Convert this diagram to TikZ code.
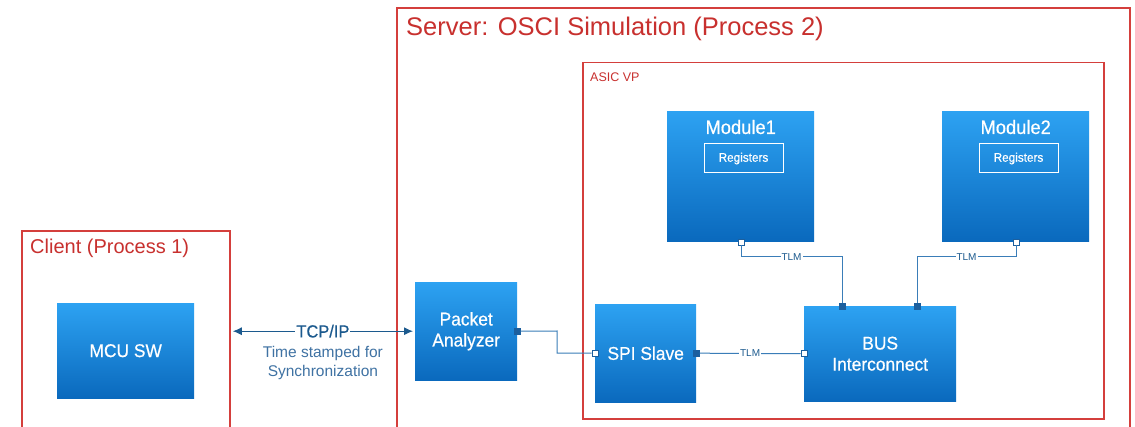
\documentclass[tikz,border=0pt]{standalone}
\usepackage{fontspec}
\setmainfont{Liberation Sans}
\newfontfamily\boxfont[FakeBold=0.5,FakeStretch=0.94]{Liberation Sans}
\usetikzlibrary{calc,arrows.meta}
\definecolor{frame}{HTML}{D43F3C}
\definecolor{frametext}{HTML}{C8302E}
\definecolor{btop}{HTML}{2DA2F2}
\definecolor{bbot}{HTML}{0A69BD}
\definecolor{wire}{HTML}{3A7DB8}
\definecolor{portc}{HTML}{1C5F9E}
\definecolor{tcpc}{HTML}{1C5A8E}
\definecolor{notec}{HTML}{3F72A3}
\tikzset{
  redframe/.style={draw=frame, line width=1.8pt, fill=none, anchor=north west, inner sep=0pt},
  bluebox/.style={top color=btop, bottom color=bbot, draw=none, anchor=north west, inner sep=0pt,
     text=white, font=\boxfont\fontsize{18.5}{21}\selectfont, align=center},
  regbox/.style={draw=white, line width=1pt, fill=none, text=white, inner sep=0pt,
     minimum width=79pt, minimum height=29pt, font=\boxfont\fontsize{12.5}{14}\selectfont},
  modtitle/.style={text=white, font=\boxfont\fontsize{19.5}{22}\selectfont, inner sep=0pt},
  wireline/.style={draw=wire, line width=1pt},
  portf/.style={fill=portc, draw=portc, minimum size=6pt, inner sep=0pt},
  porto/.style={fill=white, draw=portc, line width=0.8pt, minimum size=6pt, inner sep=0pt},
  tlm/.style={fill=white, inner sep=1pt, text=tcpc, font=\fontsize{10}{12}\selectfont},
  tcptip/.tip={Latex[length=9pt,width=8pt]},
}
\begin{document}
\begin{tikzpicture}[x=1pt,y=-1pt]
\useasboundingbox[fill=white] (0,0) rectangle (1135,427);
% frames
\node[redframe, minimum width=208pt, minimum height=205pt] (client) at (21,230) {};
\node[anchor=west, text=frametext, font=\fontsize{20}{24}\selectfont, inner sep=0pt] (clientt) at (30,248) {Client (Process 1)};
\node[redframe, minimum width=733pt, minimum height=430pt] (server) at (396,7) {};
\node[anchor=west, text=frametext, font=\fontsize{25.5}{30}\selectfont, inner sep=0pt] (servert) at (406,29) {Server: OSCI Simulation (Process 2)};
\node[redframe, minimum width=521pt, minimum height=356pt, line width=1.5pt] (asic) at (582,62) {};
\node[anchor=west, text=frametext, font=\fontsize{12.5}{15}\selectfont, inner sep=0pt] (asict) at (590,77) {ASIC VP};
% blue boxes
\node[bluebox, minimum width=137pt, minimum height=95pt] (mcu) at (57,303) {MCU SW};
\node[bluebox, minimum width=102pt, minimum height=98pt] (pa) at (415,282) {Packet\\Analyzer};
\node[bluebox, minimum width=101pt, minimum height=98pt] (spi) at (595,304) {SPI Slave};
\node[bluebox, minimum width=152pt, minimum height=95pt] (bus) at (804,306) {BUS\\Interconnect};
\node[bluebox, minimum width=147pt, minimum height=130pt] (m1) at (667,111) {};
\node[bluebox, minimum width=147pt, minimum height=130pt] (m2) at (942,111) {};
\node[modtitle] (m1t) at ($(m1.north)+(0,16)$) {Module1};
\node[modtitle] (m2t) at ($(m2.north)+(0,16)$) {Module2};
\node[regbox] (r1) at (743.5,158.5) {Registers};
\node[regbox] (r2) at (1018.5,158.5) {Registers};
% TCP/IP link
\draw[draw=tcpc, line width=1pt, shorten <=2pt, shorten >=2pt, tcptip-tcptip]
  (client.east |- pa.west) -- node[fill=white, inner sep=1pt, text=tcpc, font=\boxfont\fontsize{17.5}{20}\selectfont] (tcp) {TCP/IP} (pa.west);
\node[align=center, text=notec, font=\fontsize{15.5}{19}\selectfont, anchor=north] (note) at ($(tcp.south)+(0,4)$) {Time stamped for\\Synchronization};
% ports
\node[portf] (paout) at (pa.east) {};
\node[porto] (spiin) at (spi.west) {};
\node[portf] (spiout) at (spi.east) {};
\node[porto] (busin) at (bus.west) {};
\node[portf] (bust1) at (842,306) {};
\node[portf] (bust2) at (917,306) {};
\node[porto] (m1p) at (741,242) {};
\node[porto] (m2p) at (1016,242) {};
% wires
\draw[wireline] (paout.east) -- (557,331) |- (spiin.west);
\draw[wireline] (spiout.east) -- node[tlm] {TLM} (busin.west);
\draw[wireline] (m1p.south) |- node[tlm, pos=0.75] {TLM} (bust1.north |- 0,257) -- (bust1.north);
\draw[wireline] (m2p.south) |- node[tlm, pos=0.75] {TLM} (bust2.north |- 0,257) -- (bust2.north);
\end{tikzpicture}
\end{document}
